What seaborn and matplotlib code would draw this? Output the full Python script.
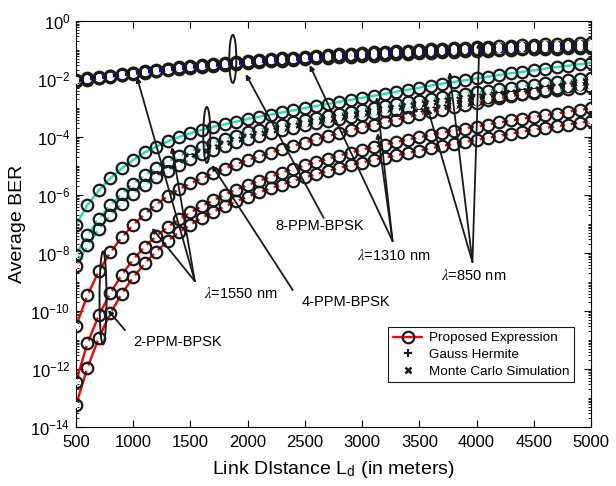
import numpy as np
import pandas as pd
import matplotlib
matplotlib.use("Agg")
import matplotlib.pyplot as plt
import seaborn as sns
from matplotlib.patches import Ellipse
from matplotlib.lines import Line2D
from matplotlib.ticker import FixedLocator, LogLocator, NullFormatter, FuncFormatter

# ---------------- data (log10 of average BER) ----------------
link_distance = list(range(500, 5001, 100))

ppm8_a = [-2.04, -1.98, -1.93, -1.88, -1.83, -1.78, -1.73, -1.68, -1.64, -1.60,
          -1.56, -1.52, -1.48, -1.44, -1.41, -1.38, -1.35, -1.32, -1.29, -1.26,
          -1.23, -1.20, -1.18, -1.15, -1.13, -1.10, -1.08, -1.06, -1.04, -1.02,
          -1.00, -0.98, -0.96, -0.94, -0.92, -0.91, -0.89, -0.87, -0.86, -0.84,
          -0.83, -0.81, -0.80, -0.78, -0.77, -0.76]
ppm8_b = [-2.06, -2.00, -1.95, -1.90, -1.85, -1.80, -1.75, -1.71, -1.67, -1.63,
          -1.59, -1.55, -1.51, -1.48, -1.45, -1.42, -1.39, -1.36, -1.33, -1.30,
          -1.28, -1.25, -1.23, -1.20, -1.18, -1.16, -1.14, -1.12, -1.10, -1.08,
          -1.06, -1.04, -1.03, -1.01, -0.99, -0.98, -0.96, -0.95, -0.93, -0.92,
          -0.91, -0.89, -0.88, -0.87, -0.86, -0.85]
ppm8_c = [-2.08, -2.02, -1.97, -1.92, -1.87, -1.83, -1.78, -1.74, -1.70, -1.66,
          -1.62, -1.58, -1.55, -1.51, -1.48, -1.45, -1.42, -1.39, -1.37, -1.34,
          -1.32, -1.29, -1.27, -1.25, -1.23, -1.21, -1.19, -1.17, -1.15, -1.13,
          -1.11, -1.10, -1.08, -1.06, -1.05, -1.03, -1.02, -1.01, -0.99, -0.98,
          -0.97, -0.96, -0.95, -0.94, -0.93, -0.92]

ppm4_a = [-7.03, -6.34, -5.83, -5.42, -5.08, -4.79, -4.53, -4.33, -4.15, -4.00,
          -3.87, -3.75, -3.65, -3.56, -3.47, -3.38, -3.30, -3.23, -3.15, -3.08,
          -3.00, -2.93, -2.86, -2.79, -2.72, -2.65, -2.58, -2.51, -2.44, -2.37,
          -2.30, -2.23, -2.16, -2.10, -2.04, -1.98, -1.92, -1.86, -1.80, -1.75,
          -1.70, -1.64, -1.59, -1.54, -1.49, -1.44]
ppm4_b = [-8.07, -7.38, -6.82, -6.35, -5.95, -5.61, -5.32, -5.07, -4.85, -4.66,
          -4.49, -4.34, -4.20, -4.07, -3.95, -3.84, -3.75, -3.66, -3.57, -3.49,
          -3.41, -3.34, -3.27, -3.20, -3.13, -3.06, -2.99, -2.93, -2.87, -2.81,
          -2.75, -2.69, -2.63, -2.57, -2.51, -2.45, -2.40, -2.35, -2.30, -2.25,
          -2.20, -2.15, -2.10, -2.05, -2.00, -1.96]
ppm4_c = [-8.45, -7.74, -7.17, -6.70, -6.30, -5.95, -5.65, -5.39, -5.16, -4.95,
          -4.77, -4.60, -4.45, -4.31, -4.18, -4.06, -3.96, -3.86, -3.77, -3.68,
          -3.60, -3.52, -3.45, -3.38, -3.31, -3.24, -3.18, -3.12, -3.06, -3.00,
          -2.94, -2.88, -2.83, -2.78, -2.73, -2.68, -2.63, -2.59, -2.55, -2.51,
          -2.47, -2.43, -2.39, -2.35, -2.32, -2.29]

ppm2_a = [-10.52, -9.45, -8.62, -7.98, -7.46, -7.03, -6.66, -6.33, -6.04, -5.80,
          -5.60, -5.42, -5.25, -5.09, -4.94, -4.80, -4.67, -4.54, -4.42, -4.30,
          -4.19, -4.08, -3.97, -3.87, -3.77, -3.67, -3.58, -3.49, -3.40, -3.31,
          -3.22, -3.14, -3.06, -2.98, -2.90, -2.82, -2.74, -2.66, -2.59, -2.52,
          -2.45, -2.38, -2.31, -2.24, -2.17, -2.10]
ppm2_b = [-12.44, -11.11, -10.14, -9.38, -8.75, -8.22, -7.78, -7.42, -7.11, -6.84,
          -6.60, -6.38, -6.18, -5.99, -5.82, -5.66, -5.51, -5.37, -5.23, -5.10,
          -4.98, -4.86, -4.75, -4.64, -4.54, -4.44, -4.35, -4.26, -4.17, -4.09,
          -4.01, -3.93, -3.85, -3.78, -3.71, -3.64, -3.57, -3.50, -3.43, -3.37,
          -3.31, -3.25, -3.19, -3.13, -3.07, -3.01]
ppm2_c = [-13.24, -11.95, -10.92, -10.08, -9.40, -8.84, -8.36, -7.95, -7.59, -7.28,
          -7.02, -6.79, -6.58, -6.39, -6.22, -6.06, -5.91, -5.77, -5.64, -5.51,
          -5.39, -5.28, -5.17, -5.07, -4.97, -4.88, -4.79, -4.71, -4.63, -4.55,
          -4.47, -4.39, -4.31, -4.24, -4.17, -4.10, -4.03, -3.96, -3.89, -3.82,
          -3.75, -3.69, -3.63, -3.57, -3.51, -3.45]

curve_names = ["8a", "8b", "8c", "4a", "4b", "4c", "2a", "2b", "2c"]
curve_values = [ppm8_a, ppm8_b, ppm8_c, ppm4_a, ppm4_b, ppm4_c, ppm2_a, ppm2_b, ppm2_c]
curve_colors = ["#0000ff", "#0000ff", "#0000ff", "#19e6b4", "#19e6b4", "#19e6b4",
                "#ff0000", "#ff0000", "#ff0000"]
curve_inner = [True, True, True, False, True, True, True, True, True]

x_ticks = [500, 1000, 1500, 2000, 2500, 3000, 3500, 4000, 4500, 5000]
y_ticks = [1e-14, 1e-12, 1e-10, 1e-8, 1e-6, 1e-4, 1e-2, 1e0]

legend_labels = ["Proposed Expression", "Gauss Hermite", "Monte Carlo Simulation"]

# annotation texts: (text, L, log10 BER)
text_items = [("8-PPM-BPSK", 2629, -7.07), ("4-PPM-BPSK", 2856, -9.69),
              ("2-PPM-BPSK", 1390, -11.07), ("$\\lambda$=1550 nm", 1940, -9.38),
              ("$\\lambda$=1310 nm", 3275, -8.07), ("$\\lambda$=850 nm", 3973, -8.76)]
# arrows: (start L, start log, tip L, tip log)
arrow_items = [(2664, -6.79, 1983, -1.83), (2394, -9.28, 1687, -4.97),
               (928, -10.66, 779, -9.97),
               (1538, -8.97, 1032, -1.93), (1538, -8.97, 1338, -4.34), (1538, -8.97, 1163, -7.14),
               (3266, -7.59, 2542, -1.52), (3266, -7.59, 3127, -2.62), (3266, -7.59, 3135, -3.86),
               (3964, -8.31, 4025, -0.72), (3964, -8.31, 3764, -1.76), (3964, -8.31, 3572, -3.00)]
# ellipses: (center L, center log, width px, height px)
ellipse_items = [(1870, -1.31, 7, 48), (1643, -3.93, 7, 56), (736, -9.55, 7, 93)]

# ---------------- dataframe ----------------
rows = []
for name, vals in zip(curve_names, curve_values):
    for L, v in zip(link_distance, vals):
        rows.append({"L": L, "BER": 10.0 ** v, "curve": name})
df = pd.DataFrame(rows)

# ---------------- style ----------------
sns.set_theme(style="ticks", rc={"axes.edgecolor": "black", "xtick.color": "black",
                                 "ytick.color": "black", "text.color": "black",
                                 "axes.labelcolor": "black"})
plt.rcParams["font.family"] = ["Liberation Sans", "DejaVu Sans"]
plt.rcParams["mathtext.fontset"] = "stix"

fig = plt.figure(figsize=(6.16, 4.86), dpi=100)
ax = fig.add_axes([0.1234, 0.1214, 0.836, 0.8354])
ax.set_yscale("log")

# lines first
for name, color in zip(curve_names, curve_colors):
    sub = df[df["curve"] == name]
    sns.lineplot(data=sub, x="L", y="BER", ax=ax, color=color, linewidth=1.7,
                 estimator=None, sort=False, legend=False, zorder=2)
# circles
for name in curve_names:
    sub = df[df["curve"] == name]
    sns.lineplot(data=sub, x="L", y="BER", ax=ax, color="k", linestyle="none",
                 marker="o", markersize=8.3, markerfacecolor="none",
                 markeredgecolor="k", markeredgewidth=1.6,
                 estimator=None, sort=False, legend=False, zorder=3)
# Gauss-Hermite (+) and Monte Carlo (x)
for name, inner in zip(curve_names, curve_inner):
    if not inner:
        continue
    sub = df[df["curve"] == name]
    sns.lineplot(data=sub, x="L", y="BER", ax=ax, color="k", linestyle="none",
                 marker="+", markersize=5, markeredgewidth=1.4,
                 estimator=None, sort=False, legend=False, zorder=4)
    sns.lineplot(data=sub, x="L", y="BER", ax=ax, color="k", linestyle="none",
                 marker="x", markersize=3.5, markeredgewidth=1.4,
                 estimator=None, sort=False, legend=False, zorder=4)

ax.set_xlim(500, 5000)
ax.set_ylim(1e-14, 1e0)
ax.xaxis.set_major_locator(FixedLocator(x_ticks))
ax.set_xticklabels([str(t) for t in x_ticks])
ax.yaxis.set_major_locator(FixedLocator(y_ticks))
ax.yaxis.set_minor_locator(LogLocator(base=10, subs=np.arange(1, 10), numticks=100))
ax.yaxis.set_minor_formatter(NullFormatter())
ax.yaxis.set_major_formatter(FuncFormatter(
    lambda v, p: "$\\mathdefault{10^{%d}}$" % int(round(np.log10(v)))))
ax.tick_params(which="both", direction="in", top=True, right=True, labelsize=12)
ax.tick_params(which="major", length=5, width=0.8)
ax.tick_params(which="minor", length=2.5, width=0.6)
ax.tick_params(axis="x", which="major", pad=6)
ax.tick_params(axis="y", which="major", pad=4)
for s in ax.spines.values():
    s.set_linewidth(0.8)
    s.set_color("black")

ax.set_xlabel("Link DIstance L$_\\mathregular{d}$ (in meters)", fontsize=14, labelpad=6)
ax.set_ylabel("Average BER", fontsize=14, labelpad=3)

# ---------------- annotations ----------------
for s, L, v in text_items:
    ax.text(L, 10 ** v, s, ha="center", va="center", fontsize=10.5, zorder=6)
for L0, v0, L1, v1 in arrow_items:
    ax.annotate("", xy=(L1, 10 ** v1), xytext=(L0, 10 ** v0),
                arrowprops=dict(arrowstyle="-|>", color="k", lw=1.3,
                                mutation_scale=7, shrinkA=0, shrinkB=0),
                zorder=5)
ax_w_px = 0.836 * 616
ax_h_px = 0.8354 * 486
for L, v, wpx, hpx in ellipse_items:
    cx = (L - 500) / 4500
    cy = (v + 14) / 14
    ax.add_patch(Ellipse((cx, cy), wpx / ax_w_px, hpx / ax_h_px, transform=ax.transAxes,
                         fill=False, ec="k", lw=1.4, zorder=6))

# ---------------- legend ----------------
handles = [Line2D([], [], color="red", lw=1.7, marker="o", mfc="none", mec="k", mew=1.6, ms=8.3),
           Line2D([], [], color="k", ls="none", marker="+", ms=5.5, mew=1.5),
           Line2D([], [], color="k", ls="none", marker="x", ms=4, mew=1.8)]
leg = ax.legend(handles, legend_labels, loc="upper left", bbox_to_anchor=(0.606, 0.246),
                fontsize=9.7, frameon=True, fancybox=False, edgecolor="k", framealpha=1,
                handlelength=2.2, labelspacing=0.32, borderpad=0.35, handletextpad=0.5,
                borderaxespad=0)
leg.get_frame().set_linewidth(0.8)
leg.set_zorder(10)

fig.savefig("out.png", dpi=100)
